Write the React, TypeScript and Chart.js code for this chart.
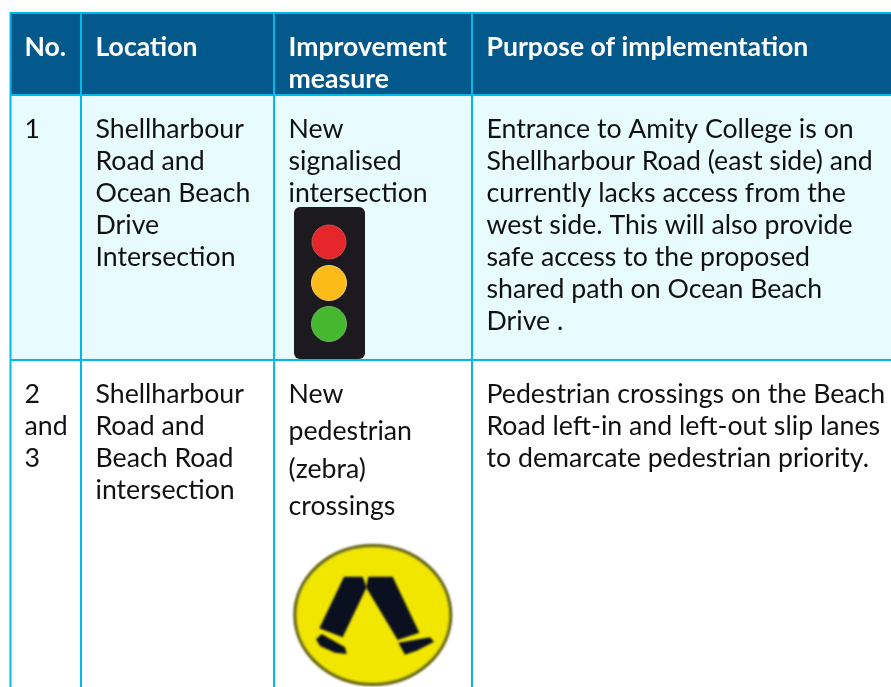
import React, { useEffect, useRef } from "react";
import { Chart, registerables } from "chart.js";

Chart.register(...registerables);

const headers = [["No."], ["Location"], ["Improvement", "measure"], ["Purpose of implementation"]];
const row1 = [
  ["1"],
  ["Shellharbour", "Road and", "Ocean Beach", "Drive", "Intersection"],
  ["New", "signalised", "intersection"],
  ["Entrance to Amity College is on", "Shellharbour Road (east side) and", "currently lacks access from the", "west side. This will also provide", "safe access to the proposed", "shared path on Ocean Beach", "Drive ."],
];
const row2 = [
  ["2", "and", "3"],
  ["Shellharbour", "Road and", "Beach Road", "intersection"],
  ["New", "pedestrian", "(zebra)", "crossings"],
  ["Pedestrian crossings on the Beach", "Road left-in and left-out slip lanes", "to demarcate pedestrian priority."],
];
const columnEdges = [10.5, 81, 274, 472, 900];
const textX = [24.5, 95.5, 288.5, 486.5];
const lightColors = ["#e5262a", "#fdbb1a", "#46b82f"];
const lightPoints = [{ x: 329, y: 242, r: 17 }, { x: 329, y: 283, r: 17.5 }, { x: 329, y: 324, r: 17.5 }];

const W = 891, H = 687;
const FONT = "Lato";
const BORDER = "#00b9e4";

const tablePlugin = {
  id: "table",
  beforeDatasetsDraw(chart: any) {
    const c = chart.ctx;
    const X = (v: number) => chart.scales.x.getPixelForValue(v);
    const Y = (v: number) => chart.scales.y.getPixelForValue(v);
    const poly = (pts: number[][], fill: string) => {
      c.fillStyle = fill;
      c.beginPath();
      pts.forEach(([zx, zy], i) => {
        const px = X(270 + zx / 3), py = Y(530 + zy / 3);
        if (i) c.lineTo(px, py); else c.moveTo(px, py);
      });
      c.closePath();
      c.fill();
    };
    c.save();
    c.fillStyle = "#ffffff";
    c.fillRect(0, 0, W, H);
    c.fillStyle = "#03588c";
    c.fillRect(X(10.5), Y(13), X(900) - X(10.5), Y(95) - Y(13));
    c.fillStyle = "#e8fcff";
    c.fillRect(X(10.5), Y(95), X(900) - X(10.5), Y(360) - Y(95));

    c.strokeStyle = BORDER;
    c.lineWidth = 2;
    c.beginPath();
    for (const x of columnEdges.slice(0, 4)) {
      c.moveTo(X(x), Y(12));
      c.lineTo(X(x), Y(687));
    }
    for (const y of [13, 95, 360]) {
      c.moveTo(X(9.5), Y(y));
      c.lineTo(X(900), Y(y));
    }
    c.stroke();

    // Traffic light housing
    c.fillStyle = "#1c1a1e";
    c.beginPath();
    c.roundRect(X(294), Y(207), 71, 152, 6);
    c.fill();

    // Crossing sign (soft edges, as in the low-resolution picture)
    c.save();
    c.filter = "blur(0.8px)";
    c.fillStyle = "#f0e600";
    c.strokeStyle = "#5f5f10";
    c.lineWidth = 3;
    c.beginPath();
    c.ellipse(X(372.8), Y(615), 78, 69.5, 0, 0, Math.PI * 2);
    c.fill();
    c.stroke();
    poly([[222, 140], [278, 140], [290, 172], [218, 322], [148, 295]], "#0b1020");
    poly([[295, 140], [368, 140], [448, 308], [383, 330], [288, 172]], "#0b1020");
    poly([[138, 328], [155, 312], [225, 352], [230, 372], [195, 368], [150, 348]], "#0b1020");
    poly([[385, 338], [480, 322], [492, 335], [440, 362], [405, 374]], "#0b1020");
    c.restore();

    c.textBaseline = "alphabetic";
    c.textAlign = "left";
    const draw = (lines: string[], x: number, y0: number, lh: number, color: string) => {
      c.fillStyle = color;
      lines.forEach((s, i) => c.fillText(s, X(x), Y(y0 + i * lh)));
    };
    c.font = `bold 26.6px ${FONT}`;
    headers.forEach((h, i) => draw(h, textX[i], 56, 32, "#ffffff"));
    c.font = `26.7px ${FONT}`;
    row1.forEach((r, i) => draw(r, textX[i], 138, 32, "#111111"));
    row2.forEach((r, i) => draw(r, textX[i], 403, i === 2 ? 37.3 : 32, "#111111"));
    c.restore();
  },
};

export default function App() {
  const ref = useRef<HTMLCanvasElement>(null);
  useEffect(() => {
    const chart = new Chart(ref.current!, {
      type: "bubble",
      data: {
        datasets: [
          {
            data: lightPoints,
            backgroundColor: lightColors,
            borderColor: ["#c8504a", "#f0d070", "#70b060"],
            borderWidth: 1,
          },
        ],
      },
      options: {
        animation: false,
        responsive: false,
        layout: { padding: 0, autoPadding: false },
        plugins: { legend: { display: false }, tooltip: { enabled: false } },
        scales: {
          x: { type: "linear", min: 0, max: W, display: false },
          y: { type: "linear", min: 0, max: H, reverse: true, display: false },
        },
      },
      plugins: [tablePlugin],
    } as any);
    return () => chart.destroy();
  }, []);
  return (
    <canvas
      ref={ref}
      width={W}
      height={H}
      style={{ position: "absolute", left: 0, top: 0, width: W, height: H }}
    />
  );
}
